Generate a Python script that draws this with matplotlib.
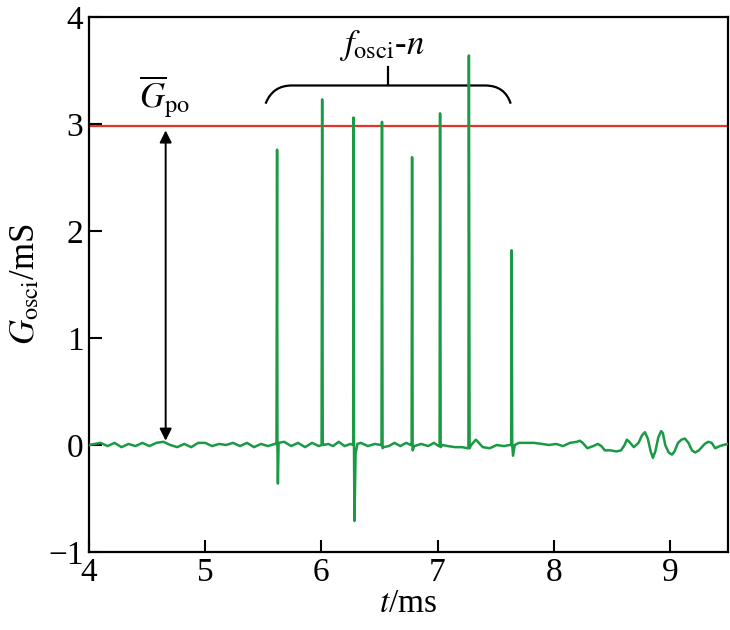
import matplotlib
matplotlib.use('Agg')
import matplotlib.pyplot as plt
from matplotlib.path import Path
from matplotlib.patches import PathPatch

plt.rcParams['font.family'] = ['Liberation Serif', 'DejaVu Serif']
plt.rcParams['mathtext.fontset'] = 'stix'
plt.rcParams['axes.unicode_minus'] = True

# t (ms) and G_osci (mS)
t = [4.00, 4.05, 4.10, 4.16, 4.22, 4.28, 4.34, 4.40, 4.46, 4.52, 4.58, 4.64,
     4.70, 4.76, 4.82, 4.88, 4.94, 5.00, 5.06, 5.12, 5.18, 5.24, 5.30, 5.36,
     5.42, 5.48, 5.54, 5.60,
     5.614, 5.619, 5.622, 5.626, 5.632,
     5.68, 5.74, 5.80, 5.86, 5.92, 5.98,
     6.002, 6.007, 6.012, 6.02, 6.06, 6.10, 6.15, 6.20, 6.25,
     6.274, 6.277, 6.281, 6.285, 6.295, 6.31, 6.34, 6.40, 6.46, 6.51,
     6.518, 6.522, 6.527, 6.535, 6.58, 6.63, 6.68, 6.73, 6.77,
     6.777, 6.781, 6.786, 6.80, 6.86, 6.92, 6.97, 7.01,
     7.018, 7.022, 7.027, 7.04, 7.09, 7.15, 7.21, 7.26,
     7.266, 7.270, 7.276, 7.29, 7.33, 7.39, 7.45, 7.51, 7.57, 7.62,
     7.634, 7.638, 7.643, 7.650, 7.665, 7.70, 7.76, 7.83, 7.90, 7.96, 8.02,
     8.08, 8.14, 8.20, 8.225, 8.25, 8.29, 8.34, 8.38, 8.41, 8.44, 8.49,
     8.54, 8.58, 8.61, 8.63, 8.65, 8.69, 8.73, 8.76, 8.785, 8.81, 8.835,
     8.854, 8.875, 8.90, 8.925, 8.94, 8.96, 8.99, 9.018, 9.04, 9.07, 9.10,
     9.13, 9.16, 9.19, 9.217, 9.25, 9.30, 9.33, 9.36, 9.39, 9.43, 9.46, 9.50]
g = [0.00, 0.01, 0.02, -0.01, 0.02, -0.02, 0.01, -0.01, 0.02, -0.01, 0.02, 0.03,
     0.00, -0.02, 0.01, -0.02, 0.02, 0.02, -0.01, 0.01, 0.00, 0.02, -0.01, 0.02,
     -0.02, 0.01, -0.01, 0.01,
     0.01, 2.76, 0.00, -0.36, 0.02,
     0.03, -0.01, 0.02, -0.02, 0.02, -0.01,
     0.00, 3.23, 0.02, 0.00, 0.01, -0.01, 0.03, -0.01, 0.01,
     0.00, 3.06, 0.00, -0.71, -0.08, 0.01, 0.02, -0.01, 0.01, 0.00,
     0.00, 3.02, -0.03, -0.02, -0.01, 0.02, -0.01, 0.02, 0.00,
     0.00, 2.69, -0.05, -0.01, 0.01, -0.01, 0.02, -0.01,
     -0.01, 3.10, -0.02, 0.00, -0.01, -0.02, -0.02, -0.03,
     -0.03, 3.64, -0.03, 0.00, 0.05, -0.02, -0.03, 0.00, -0.01, 0.00,
     0.00, 1.82, 0.00, -0.10, 0.00, 0.02, 0.02, 0.02, 0.01, 0.00, 0.01,
     -0.01, 0.02, 0.03, 0.04, 0.02, -0.03, -0.01, 0.01, -0.01, -0.05, -0.05,
     -0.06, -0.05, 0.00, 0.05, 0.03, -0.02, 0.02, 0.09, 0.12, 0.06, -0.06,
     -0.12, -0.06, 0.07, 0.13, 0.11, 0.00, -0.07, -0.09, -0.06, 0.02, 0.05,
     0.06, 0.02, -0.05, -0.07, -0.05, 0.01, 0.03, 0.02, -0.03, -0.01, 0.00, 0.01]

g_po = 2.98

xticks = [4, 5, 6, 7, 8, 9]
yticks = [-1, 0, 1, 2, 3, 4]

fig = plt.figure(figsize=(7.3, 6.3), dpi=100)
ax = fig.add_axes([0.1219, 0.1238, 0.8753, 0.8492])

ax.plot(t, g, color='#1a9a45', lw=1.8, zorder=3, solid_joinstyle='round')
ax.axhline(g_po, color='#e8302a', lw=1.6, zorder=2)

ax.set_xlim(4, 9.5)
ax.set_ylim(-1, 4)
ax.set_xticks(xticks)
ax.set_yticks(yticks)
ax.tick_params(direction='in', length=9, width=1.5, labelsize=24,
               top=False, right=False, pad=4)
for s in ax.spines.values():
    s.set_linewidth(1.6)

ax.set_xlabel(r'$t$/ms', fontsize=24, labelpad=0)
ax.set_ylabel(r'$G_{\rm osci}$/mS', fontsize=25, labelpad=4)

# double arrow for G_po
ax.annotate('', xy=(4.66, 0.04), xytext=(4.66, 2.94),
            arrowprops=dict(arrowstyle='<|-|>', color='black', lw=1.4,
                            mutation_scale=18, shrinkA=0, shrinkB=0))
ax.text(4.65, 3.26, r'$\overline{G}_{\rm po}$', fontsize=25,
        ha='center', va='center')

# brace over the spikes
verts = [(5.52, 3.19), (5.58, 3.36), (5.745, 3.36),
         (7.41, 3.36),
         (7.58, 3.36), (7.63, 3.19)]
codes = [Path.MOVETO, Path.CURVE3, Path.CURVE3, Path.LINETO,
         Path.CURVE3, Path.CURVE3]
ax.add_patch(PathPatch(Path(verts, codes), fill=False, lw=1.6,
                       color='black', clip_on=False))
ax.plot([6.575, 6.575], [3.36, 3.53], color='black', lw=1.6)
ax.text(6.52, 3.73, r'$f_{\rm osci}$-$n$', fontsize=25,
        ha='center', va='center')

fig.savefig('out.png', dpi=100)
